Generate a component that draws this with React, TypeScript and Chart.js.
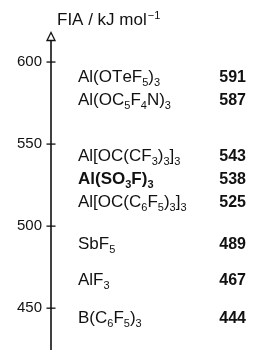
import React, { useEffect, useRef } from "react";
import { Chart, registerables } from "chart.js";

Chart.register(...registerables);

// ---- data ----
const compounds = [
  "Al(OTeF_5)_3",
  "Al(OC_5F_4N)_3",
  "Al[OC(CF_3)_3]_3",
  "Al(SO_3F)_3",
  "Al[OC(C_6F_5)_3]_3",
  "SbF_5",
  "AlF_3",
  "B(C_6F_5)_3",
];
const fia = [591, 587, 543, 538, 525, 489, 467, 444];
const highlighted = [false, false, false, true, false, false, false, false];
const tickValues = [450, 500, 550, 600];
const axisTitle = "FIA / kJ mol";
const axisTitleSup = "\u22121";

const FONT = '"Liberation Sans", Arial, Helvetica, sans-serif';
const INK = "#111111";

function drawRich(ctx: CanvasRenderingContext2D, x: number, baseline: number, text: string, size: number, subSize: number, bold: boolean) {
  let cx = x;
  let i = 0;
  while (i < text.length) {
    const ch = text[i];
    if (ch === "_" && i + 1 < text.length) {
      const s = text[i + 1];
      ctx.font = `${bold ? "bold " : ""}${subSize}px ${FONT}`;
      ctx.fillText(s, cx, baseline + 4);
      cx += ctx.measureText(s).width;
      i += 2;
    } else {
      ctx.font = `${bold ? "bold " : ""}${size}px ${FONT}`;
      ctx.fillText(ch, cx, baseline);
      cx += ctx.measureText(ch).width;
      i += 1;
    }
  }
  return cx;
}

const scalePlugin = {
  id: "fiaScale",
  afterDraw(chart: any) {
    const ctx: CanvasRenderingContext2D = chart.ctx;
    const y = chart.scales.y;
    const area = chart.chartArea;
    const ax = area.left;
    ctx.save();
    ctx.strokeStyle = INK;
    ctx.fillStyle = INK;
    ctx.lineWidth = 1.6;
    // axis line
    const tipY = area.top;
    const headLen = 8;
    const headHalf = 4;
    ctx.beginPath();
    ctx.moveTo(ax, chart.height);
    ctx.lineTo(ax, tipY + headLen);
    ctx.stroke();
    // hollow arrow head
    ctx.lineWidth = 1.3;
    ctx.beginPath();
    ctx.moveTo(ax, tipY);
    ctx.lineTo(ax - headHalf, tipY + headLen);
    ctx.lineTo(ax + headHalf, tipY + headLen);
    ctx.closePath();
    ctx.stroke();
    // tick marks crossing the axis
    ctx.lineWidth = 1.3;
    for (const t of y.ticks) {
      const py = y.getPixelForValue(t.value);
      ctx.beginPath();
      ctx.moveTo(ax - 4.5, py);
      ctx.lineTo(ax + 4.5, py);
      ctx.stroke();
    }
    // axis title with superscript
    ctx.textBaseline = "alphabetic";
    ctx.textAlign = "left";
    ctx.font = `17px ${FONT}`;
    const tx = ax + 6;
    const tb = tipY - 8;
    ctx.fillText(axisTitle, tx, tb);
    const w = ctx.measureText(axisTitle).width;
    ctx.font = `11px ${FONT}`;
    ctx.fillText(axisTitleSup, tx + w + 1, tb - 6);

    // compound labels, positioned from the scale, pushed apart if overlapping
    const meta = chart.getDatasetMeta(0);
    const ys: number[] = meta.data.map((p: any) => p.y);
    const gap = 23;
    const placed: number[] = [];
    for (let i = 0; i < ys.length; i++) {
      let v = ys[i];
      if (i > 0 && v < placed[i - 1] + gap) v = placed[i - 1] + gap;
      placed.push(v);
    }
    for (let i = 0; i < compounds.length; i++) {
      const base = placed[i] + 5;
      ctx.textAlign = "left";
      drawRich(ctx, 78, base, compounds[i], 17, 11, highlighted[i]);
      ctx.textAlign = "right";
      ctx.font = `bold 16px ${FONT}`;
      ctx.fillText(String(fia[i]), 246, base);
    }
    ctx.restore();
  },
};

export default function App() {
  const ref = useRef<HTMLCanvasElement | null>(null);
  useEffect(() => {
    document.body.style.margin = "0";
    if (!ref.current) return;
    const chart = new Chart(ref.current, {
      type: "scatter",
      data: {
        datasets: [
          {
            data: fia.map((v) => ({ x: 0, y: v })),
            pointRadius: 0,
            showLine: false,
          },
        ],
      },
      options: {
        animation: false,
        responsive: true,
        maintainAspectRatio: false,
        layout: { padding: { top: 32.5, bottom: 9, left: 0, right: 0 } },
        plugins: { legend: { display: false }, tooltip: { enabled: false } },
        events: [],
        scales: {
          x: { display: false, min: 0, max: 1 },
          y: {
            min: 430,
            max: 618,
            afterBuildTicks: (s: any) => {
              s.ticks = tickValues.map((v) => ({ value: v }));
            },
            afterFit: (s: any) => {
              s.width = 51;
              s.paddingTop = 0;
              s.paddingBottom = 0;
            },
            grid: { display: false, drawTicks: false },
            border: { display: false },
            ticks: {
              padding: 9,
              color: INK,
              font: { family: FONT, size: 15 },
            },
          },
        },
      },
      plugins: [scalePlugin],
    });
    return () => chart.destroy();
  }, []);
  return (
    <div style={{ width: 269, height: 350, position: "relative", background: "#fff" }}>
      <canvas ref={ref} />
    </div>
  );
}
